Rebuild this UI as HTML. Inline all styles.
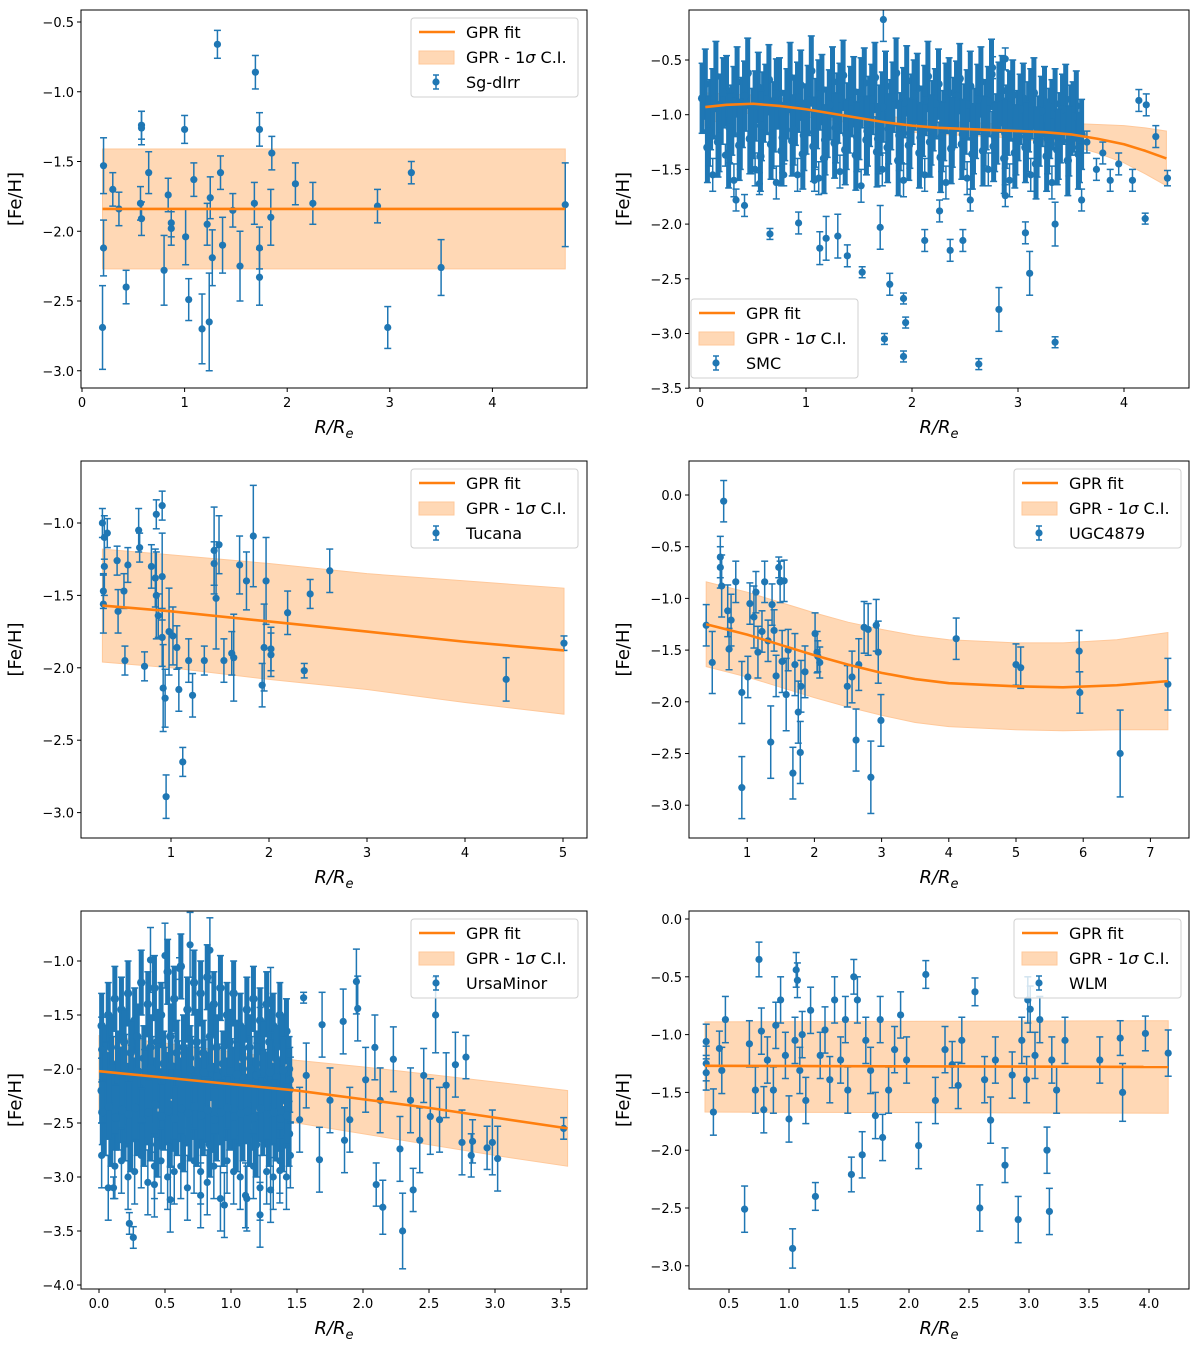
<!DOCTYPE html>
<html><head><meta charset="utf-8"><style>
body{margin:0;background:#fff;}
svg{display:block;font-family:"DejaVu Sans","Liberation Sans",sans-serif;}
</style></head><body>
<svg id="chart" width="1200" height="1350" viewBox="0 0 1200 1350" xmlns="http://www.w3.org/2000/svg"></svg>
<script>
// ---------- Panel 1: Sg-dIrr ----------
const sgX=[0.21,0.21,0.2,0.3,0.36,0.43,0.57,0.58,0.58,0.58,0.65,0.8,0.84,0.87,0.87,1.0,1.01,1.04,1.09,1.17,1.22,1.25,1.24,1.27,1.32,1.35,1.37,1.47,1.54,1.68,1.69,1.73,1.73,1.73,1.84,1.85,2.08,2.25,2.88,2.98,3.21,3.5,4.71];
const sgY=[-1.53,-2.12,-2.69,-1.70,-1.84,-2.40,-1.80,-1.91,-1.24,-1.26,-1.58,-2.28,-1.74,-1.94,-1.98,-1.27,-2.04,-2.49,-1.63,-2.70,-1.95,-1.76,-2.65,-2.19,-0.66,-1.58,-2.10,-1.85,-2.25,-1.80,-0.86,-1.27,-2.12,-2.33,-1.90,-1.44,-1.66,-1.80,-1.82,-2.69,-1.58,-2.26,-1.81];
const sgE=[0.2,0.2,0.3,0.12,0.12,0.12,0.12,0.12,0.1,0.12,0.15,0.25,0.12,0.1,0.12,0.1,0.2,0.15,0.12,0.25,0.15,0.15,0.35,0.2,0.1,0.12,0.2,0.12,0.25,0.15,0.12,0.12,0.15,0.2,0.2,0.12,0.15,0.15,0.12,0.15,0.08,0.2,0.3];
const sgFitX=[0.2,4.71], sgFitY=[-1.84,-1.84], sgFitHi=[-1.41,-1.41], sgFitLo=[-2.27,-2.27];
const sgXTicks=[0,1,2,3,4], sgYTicks=[-0.5,-1.0,-1.5,-2.0,-2.5,-3.0];

// ---------- Panel 2: SMC (dense core) ----------
const smcBlobX=[0.05,0.15,0.25,0.35,0.45,0.55,0.65,0.75,0.85,0.95,1.05,1.15,1.25,1.35,1.45,1.55,1.65,1.75,1.85,1.95,2.05,2.15,2.25,2.35,2.45,2.55,2.65,2.75,2.85,2.95,3.05,3.15,3.25,3.35,3.45,3.55,
0.1,0.2,0.3,0.4,0.5,0.6,0.7,0.8,0.9,1.0,1.1,1.2,1.3,1.4,1.5,1.6,1.7,1.8,1.9,2.0,2.1,2.2,2.3,2.4,2.5,2.6,2.7,2.8,2.9,3.0,3.1,3.2,3.3,3.4,3.5,3.6,
0.07,0.17,0.27,0.37,0.47,0.57,0.67,0.77,0.87,0.97,1.07,1.17,1.27,1.37,1.47,1.57,1.67,1.77,1.87,1.97,2.07,2.17,2.27,2.37,2.47,2.57,2.67,2.77,2.87,2.97,3.07,3.17,3.27,3.37,3.47,3.57,
0.02,0.12,0.22,0.32,0.42,0.52,0.62,0.72,0.82,0.92,1.02,1.12,1.22,1.32,1.42,1.52,1.62,1.72,1.82,1.92,2.02,2.12,2.22,2.32,2.42,2.52,2.62,2.72,2.82,2.92,3.02,3.12,3.22,3.32,3.42,3.52,
0.08,0.18,0.28,0.38,0.48,0.58,0.68,0.78,0.88,0.98,1.08,1.18,1.28,1.38,1.48,1.58,1.68,1.78,1.88,1.98,2.08,2.18,2.28,2.38,2.48,2.58,2.68,2.78,2.88,2.98,3.08,3.18,3.28,3.38,3.48,3.58];
const smcBlobY=[-0.72,-0.65,-0.78,-0.70,-0.62,-0.75,-0.68,-0.80,-0.66,-0.73,-0.60,-0.77,-0.70,-0.64,-0.79,-0.71,-0.66,-0.74,-0.62,-0.69,-0.76,-0.65,-0.72,-0.80,-0.67,-0.74,-0.70,-0.63,-0.78,-0.82,-0.85,-0.80,-0.88,-0.90,-0.86,-0.92,
-1.00,-0.95,-1.05,-0.98,-1.08,-0.93,-1.02,-1.10,-0.96,-1.04,-0.99,-1.07,-0.94,-1.03,-1.09,-0.97,-1.05,-1.00,-1.12,-0.95,-1.06,-1.01,-1.10,-0.98,-1.04,-1.08,-1.00,-1.13,-1.05,-1.10,-1.02,-1.15,-1.08,-1.12,-1.05,-1.18,
-1.30,-1.25,-1.35,-1.28,-1.22,-1.38,-1.27,-1.33,-1.24,-1.36,-1.29,-1.40,-1.26,-1.32,-1.37,-1.23,-1.34,-1.30,-1.42,-1.28,-1.35,-1.25,-1.39,-1.31,-1.27,-1.36,-1.33,-1.29,-1.40,-1.35,-1.30,-1.45,-1.38,-1.32,-1.42,-1.36,
-0.85,-0.9,-0.8,-0.88,-0.83,-0.92,-0.86,-0.81,-0.9,-0.84,-0.87,-0.82,-0.91,-0.85,-0.88,-0.8,-0.86,-0.93,-0.84,-0.89,-0.82,-0.87,-0.9,-0.85,-0.83,-0.91,-0.86,-0.88,-0.84,-0.92,-0.95,-0.9,-0.97,-1.0,-0.95,-1.02,
-1.15,-1.2,-1.12,-1.18,-1.22,-1.1,-1.17,-1.21,-1.14,-1.19,-1.16,-1.23,-1.12,-1.18,-1.2,-1.15,-1.22,-1.13,-1.19,-1.17,-1.21,-1.14,-1.2,-1.16,-1.18,-1.22,-1.15,-1.2,-1.17,-1.23,-1.2,-1.25,-1.22,-1.27,-1.24,-1.3];
const smcBlobErr=0.32;
// ---------- SMC scattered points ----------
const smcX=[0.12,0.32,0.52,0.72,0.92,1.12,1.32,1.52,1.72,1.92,2.12,2.32,2.52,2.72,2.92,3.12,3.32,
1.73,2.76,2.88,0.24,0.42,0.66,0.93,1.13,1.19,1.3,1.39,1.53,1.7,1.79,1.92,1.94,1.74,1.92,2.63,2.82,3.11,3.35,3.35,2.12,2.36,2.48,3.07,3.6,3.87,4.14,4.21,4.2,4.41,4.08,3.74,0.34,0.56,0.79,1.08,2.26,2.55,2.88,3.8,3.95,4.3,3.65];
const smcY=[-1.55,-1.6,-1.5,-1.62,-1.55,-1.58,-1.52,-1.65,-1.5,-1.6,-1.55,-1.62,-1.58,-1.5,-1.6,-1.55,-1.62,
-0.13,-0.57,-0.49,-1.37,-1.83,-2.09,-1.99,-2.22,-2.13,-2.11,-2.29,-2.44,-2.03,-2.55,-2.68,-2.9,-3.05,-3.21,-3.28,-2.78,-2.45,-3.08,-2.0,-2.15,-2.24,-2.15,-2.08,-1.78,-1.6,-0.87,-0.91,-1.95,-1.58,-1.6,-1.5,-1.78,-1.63,-1.55,-1.6,-1.88,-1.78,-1.74,-1.35,-1.45,-1.2,-1.25];
const smcE=[0.15,0.15,0.15,0.15,0.15,0.15,0.15,0.15,0.15,0.15,0.15,0.15,0.15,0.15,0.15,0.15,0.15,
0.2,0.1,0.1,0.1,0.1,0.05,0.1,0.15,0.2,0.2,0.1,0.05,0.2,0.1,0.05,0.05,0.05,0.05,0.05,0.2,0.2,0.05,0.2,0.1,0.1,0.1,0.1,0.1,0.1,0.1,0.1,0.05,0.07,0.1,0.1,0.1,0.1,0.1,0.1,0.1,0.1,0.1,0.1,0.1,0.1,0.1];
const smcFitX=[0.05,0.25,0.5,0.75,1,1.25,1.5,1.75,2,2.25,2.5,2.75,3,3.25,3.5,3.75,4,4.2,4.4];
const smcFitY=[-0.93,-0.91,-0.9,-0.92,-0.95,-0.99,-1.03,-1.07,-1.1,-1.12,-1.13,-1.14,-1.15,-1.16,-1.18,-1.22,-1.27,-1.33,-1.4];
const smcFitHi=[-0.8,-0.81,-0.82,-0.85,-0.88,-0.93,-0.97,-1.01,-1.04,-1.06,-1.07,-1.08,-1.08,-1.08,-1.08,-1.09,-1.1,-1.12,-1.15];
const smcFitLo=[-1.1,-1.02,-0.98,-0.99,-1.02,-1.05,-1.09,-1.13,-1.16,-1.18,-1.19,-1.2,-1.22,-1.25,-1.28,-1.35,-1.44,-1.54,-1.65];
const smcXTicks=[0,1,2,3,4], smcYTicks=[-0.5,-1.0,-1.5,-2.0,-2.5,-3.0,-3.5];

// ---------- Panel 3: Tucana ----------
const tucX=[0.3,0.32,0.32,0.31,0.31,0.35,0.45,0.46,0.52,0.53,0.56,0.67,0.68,0.73,0.8,0.84,0.85,0.85,0.87,0.91,0.91,0.91,0.92,0.94,0.95,0.98,1.02,1.06,1.08,1.12,1.18,1.22,1.34,1.44,1.44,1.46,1.49,1.54,1.62,1.64,1.7,1.77,1.84,1.93,1.95,1.97,2.02,2.02,2.19,2.36,2.42,2.62,4.42,5.01];
const tucY=[-1.0,-1.1,-1.3,-1.47,-1.56,-1.07,-1.26,-1.61,-1.47,-1.95,-1.29,-1.05,-1.17,-1.99,-1.3,-1.38,-0.94,-1.5,-1.64,-1.37,-0.88,-1.79,-2.14,-2.21,-2.89,-1.75,-1.78,-1.86,-2.15,-2.65,-1.95,-2.19,-1.95,-1.19,-1.28,-1.52,-1.15,-1.95,-1.9,-1.93,-1.29,-1.4,-1.09,-2.12,-1.86,-1.4,-1.91,-1.87,-1.62,-2.02,-1.49,-1.33,-2.08,-1.83];
const tucE=[0.1,0.15,0.2,0.12,0.2,0.1,0.1,0.15,0.12,0.1,0.12,0.15,0.1,0.1,0.15,0.2,0.1,0.3,0.15,0.3,0.1,0.2,0.3,0.2,0.15,0.3,0.2,0.15,0.15,0.1,0.15,0.15,0.1,0.3,0.15,0.35,0.2,0.15,0.15,0.3,0.2,0.2,0.35,0.15,0.3,0.3,0.15,0.15,0.15,0.05,0.1,0.15,0.15,0.05];
const tucFitX=[0.3,1,2,3,4,5.01];
const tucFitY=[-1.57,-1.61,-1.68,-1.75,-1.82,-1.88];
const tucFitHi=[-1.18,-1.22,-1.28,-1.35,-1.4,-1.45];
const tucFitLo=[-1.96,-2.0,-2.08,-2.15,-2.24,-2.32];
const tucXTicks=[1,2,3,4,5], tucYTicks=[-1.0,-1.5,-2.0,-2.5,-3.0];

// ---------- Panel 4: UGC4879 ----------
const ugcX=[0.39,0.48,0.6,0.6,0.62,0.65,0.71,0.73,0.76,0.83,0.92,0.92,1.01,1.04,1.1,1.13,1.16,1.22,1.26,1.31,1.35,1.37,1.4,1.43,1.47,1.49,1.52,1.55,1.58,1.61,1.68,1.71,1.76,1.79,1.8,1.86,2.01,2.04,2.05,2.08,2.49,2.56,2.62,2.66,2.74,2.8,2.84,2.92,2.95,2.99,4.11,5.0,5.07,5.94,5.95,6.55,7.26];
const ugcY=[-1.26,-1.62,-0.6,-0.7,-0.88,-0.06,-1.12,-1.49,-1.21,-0.84,-2.83,-1.91,-1.76,-1.05,-1.18,-0.94,-1.52,-1.32,-0.84,-1.41,-2.39,-1.06,-1.31,-1.75,-0.7,-0.84,-1.61,-0.83,-1.93,-1.5,-2.69,-1.64,-2.1,-2.49,-1.85,-1.71,-1.34,-1.52,-1.56,-1.62,-1.85,-1.76,-2.37,-1.64,-1.28,-1.3,-2.73,-1.26,-1.52,-2.18,-1.39,-1.64,-1.67,-1.51,-1.91,-2.5,-1.83];
const ugcE=[0.2,0.3,0.2,0.2,0.3,0.2,0.25,0.2,0.25,0.2,0.3,0.3,0.2,0.2,0.3,0.2,0.25,0.2,0.2,0.2,0.35,0.2,0.2,0.2,0.1,0.2,0.3,0.2,0.35,0.2,0.25,0.3,0.3,0.3,0.25,0.25,0.2,0.2,0.15,0.15,0.2,0.25,0.3,0.25,0.25,0.25,0.35,0.25,0.3,0.25,0.2,0.2,0.2,0.2,0.2,0.42,0.25];
const ugcFitX=[0.39,1,1.5,2,2.5,3,3.5,4,5,5.7,6.5,7.26];
const ugcFitY=[-1.25,-1.35,-1.45,-1.55,-1.64,-1.72,-1.78,-1.82,-1.85,-1.86,-1.84,-1.8];
const ugcFitHi=[-0.84,-0.94,-1.04,-1.14,-1.23,-1.3,-1.36,-1.4,-1.43,-1.43,-1.4,-1.33];
const ugcFitLo=[-1.66,-1.76,-1.86,-1.96,-2.05,-2.13,-2.2,-2.24,-2.27,-2.28,-2.27,-2.27];
const ugcXTicks=[1,2,3,4,5,6,7], ugcYTicks=[0.0,-0.5,-1.0,-1.5,-2.0,-2.5,-3.0];

// ---------- Panel 5: UrsaMinor (dense core) ----------
const umiBlobX=[0.02,0.07,0.12,0.17,0.22,0.27,0.32,0.37,0.42,0.47,0.52,0.57,0.62,0.67,0.72,0.77,0.82,0.87,0.92,0.97,1.02,1.07,1.12,1.17,1.22,1.27,1.32,1.37,1.42,
0.04,0.09,0.14,0.19,0.24,0.29,0.34,0.39,0.44,0.49,0.54,0.59,0.64,0.69,0.74,0.79,0.84,0.89,0.94,0.99,1.04,1.09,1.14,1.19,1.24,1.29,1.34,1.39,1.44,
0.02,0.07,0.12,0.17,0.22,0.27,0.32,0.37,0.42,0.47,0.52,0.57,0.62,0.67,0.72,0.77,0.82,0.87,0.92,0.97,1.02,1.07,1.12,1.17,1.22,1.27,1.32,1.37,1.42,
0.04,0.09,0.14,0.19,0.24,0.29,0.34,0.39,0.44,0.49,0.54,0.59,0.64,0.69,0.74,0.79,0.84,0.89,0.94,0.99,1.04,1.09,1.14,1.19,1.24,1.29,1.34,1.39,1.44,
0.045,0.095,0.145,0.195,0.245,0.295,0.345,0.395,0.445,0.495,0.545,0.595,0.645,0.695,0.745,0.795,0.845,0.895,0.945,0.995,1.045,1.095,1.145,1.195,1.245,1.295,1.345,1.395,1.445,
0.025,0.075,0.125,0.175,0.225,0.275,0.325,0.375,0.425,0.475,0.525,0.575,0.625,0.675,0.725,0.775,0.825,0.875,0.925,0.975,1.025,1.075,1.125,1.175,1.225,1.275,1.325,1.375,1.425];
const umiBlobY=[-1.6,-1.5,-1.35,-1.45,-1.3,-1.55,-1.2,-1.4,-1.25,-1.5,-1.1,-1.35,-1.05,-1.45,-1.2,-1.3,-1.15,-1.4,-1.25,-1.5,-1.3,-1.6,-1.45,-1.35,-1.55,-1.4,-1.6,-1.5,-1.65,
-1.9,-1.8,-1.95,-1.75,-1.85,-1.7,-1.9,-1.8,-1.75,-1.95,-1.7,-1.85,-1.8,-1.9,-1.75,-1.85,-1.7,-1.8,-1.95,-1.75,-1.85,-1.9,-1.8,-1.95,-1.85,-1.75,-1.9,-1.8,-2.0,
-2.2,-2.15,-2.3,-2.1,-2.25,-2.2,-2.35,-2.1,-2.2,-2.3,-2.15,-2.25,-2.2,-2.1,-2.3,-2.2,-2.15,-2.25,-2.3,-2.2,-2.1,-2.25,-2.35,-2.2,-2.3,-2.15,-2.25,-2.2,-2.3,
-2.5,-2.6,-2.45,-2.55,-2.65,-2.5,-2.6,-2.55,-2.7,-2.45,-2.6,-2.5,-2.65,-2.55,-2.6,-2.5,-2.7,-2.55,-2.6,-2.45,-2.65,-2.55,-2.6,-2.7,-2.5,-2.6,-2.55,-2.65,-2.6,
-2.05,-2.0,-2.1,-1.98,-2.08,-2.02,-2.12,-2.0,-2.06,-2.1,-1.97,-2.04,-2.08,-2.0,-2.1,-2.03,-1.99,-2.07,-2.11,-2.02,-2.05,-2.09,-2.0,-2.06,-2.12,-2.03,-2.08,-2.01,-2.1,
-2.4,-2.35,-2.45,-2.38,-2.42,-2.36,-2.48,-2.4,-2.33,-2.44,-2.39,-2.46,-2.37,-2.41,-2.35,-2.43,-2.38,-2.47,-2.4,-2.36,-2.44,-2.41,-2.39,-2.45,-2.37,-2.42,-2.4,-2.46,-2.43];
const umiBlobErr=0.3;
// ---------- UrsaMinor scattered points ----------
const umiX=[0.02,0.07,0.12,0.17,0.22,0.27,0.32,0.37,0.42,0.47,0.52,0.57,0.62,0.67,0.72,0.77,0.82,0.87,0.92,0.97,1.02,1.07,1.12,1.17,1.22,1.27,1.32,1.37,1.42,
0.02,0.11,0.23,0.26,0.61,0.5,1.55,1.57,1.69,1.85,1.95,1.96,2.09,2.1,2.15,2.23,2.28,2.3,2.36,2.38,2.46,2.51,2.55,2.63,2.7,2.75,2.78,2.82,2.83,2.94,2.98,3.02,3.52,2.58,2.43,1.86,1.9,1.75,1.45,1.3,1.37,1.67,1.22,1.11,0.95,0.77,0.42,0.54,2.13,2.02,1.45,1.52,1.3,1.22,0.69,0.84,0.39];
const umiY=[-2.8,-3.1,-2.9,-2.85,-3.0,-2.95,-2.8,-3.05,-2.9,-2.85,-3.0,-2.95,-2.9,-3.1,-2.85,-2.95,-3.05,-2.9,-3.2,-2.85,-2.95,-3.0,-3.2,-2.9,-3.1,-2.95,-3.0,-2.85,-3.0,
-1.82,-3.1,-3.43,-3.56,-1.07,-0.95,-1.34,-2.06,-1.59,-1.56,-1.19,-1.44,-1.8,-3.07,-3.28,-1.91,-2.74,-3.5,-2.29,-3.12,-2.06,-2.44,-1.5,-2.15,-1.96,-2.68,-1.89,-2.8,-2.67,-2.73,-2.68,-2.83,-2.55,-2.47,-2.66,-2.66,-2.47,-2.29,-2.8,-3.12,-2.94,-2.84,-3.35,-3.17,-3.26,-3.17,-3.07,-3.21,-2.29,-2.1,-2.19,-2.47,-1.36,-1.73,-0.85,-0.9,-0.99];
const umiE=[0.3,0.3,0.3,0.3,0.3,0.3,0.3,0.3,0.3,0.3,0.3,0.3,0.3,0.3,0.3,0.3,0.3,0.3,0.3,0.3,0.3,0.3,0.3,0.3,0.3,0.3,0.3,0.3,0.3,
0.3,0.1,0.1,0.1,0.1,0.3,0.05,0.3,0.3,0.3,0.3,0.3,0.3,0.2,0.25,0.3,0.3,0.35,0.3,0.2,0.25,0.35,0.35,0.3,0.3,0.3,0.2,0.2,0.2,0.2,0.3,0.3,0.1,0.3,0.3,0.3,0.3,0.3,0.3,0.3,0.3,0.3,0.3,0.3,0.3,0.3,0.3,0.3,0.3,0.3,0.3,0.3,0.3,0.3,0.3,0.3,0.3];
const umiFitX=[0,0.5,1,1.5,2,2.5,3,3.55];
const umiFitY=[-2.02,-2.08,-2.14,-2.2,-2.28,-2.36,-2.45,-2.55];
const umiFitHi=[-1.69,-1.76,-1.84,-1.92,-1.98,-2.05,-2.12,-2.2];
const umiFitLo=[-2.39,-2.4,-2.44,-2.5,-2.6,-2.7,-2.8,-2.9];
const umiXTicks=[0.0,0.5,1.0,1.5,2.0,2.5,3.0,3.5], umiYTicks=[-1.0,-1.5,-2.0,-2.5,-3.0,-3.5,-4.0];

// ---------- Panel 6: WLM ----------
const wlmX=[0.31,0.31,0.31,0.37,0.42,0.44,0.47,0.63,0.67,0.72,0.75,0.77,0.79,0.82,0.87,0.89,0.93,0.97,1.0,1.03,1.05,1.06,1.07,1.09,1.11,1.14,1.18,1.22,1.26,1.3,1.34,1.38,1.43,1.47,1.49,1.52,1.54,1.57,1.61,1.64,1.68,1.72,1.76,1.78,1.83,1.88,1.93,1.98,2.08,2.14,2.22,2.3,2.36,2.41,2.44,2.55,2.59,2.63,2.68,2.72,2.8,2.86,2.91,2.94,2.98,3.01,3.05,3.15,3.17,3.19,3.23,3.3,3.59,3.76,3.78,3.97,4.16,2.99,3.09];
const wlmY=[-1.06,-1.25,-1.33,-1.67,-1.12,-1.31,-0.87,-2.51,-1.08,-1.48,-0.35,-0.97,-1.65,-1.22,-1.48,-0.92,-0.7,-1.18,-1.73,-2.85,-1.05,-0.44,-0.53,-1.31,-1.0,-1.57,-0.79,-2.4,-1.18,-0.96,-1.39,-0.7,-1.22,-0.87,-1.48,-2.21,-0.5,-0.7,-2.04,-1.05,-1.31,-1.7,-0.87,-1.89,-1.48,-1.13,-0.83,-1.22,-1.96,-0.48,-1.57,-1.13,-1.26,-1.44,-1.05,-0.63,-2.5,-1.39,-1.74,-1.22,-2.13,-1.35,-2.6,-1.05,-1.39,-0.78,-1.18,-2.0,-2.53,-1.22,-1.48,-1.05,-1.22,-1.03,-1.5,-0.99,-1.16,-0.7,-0.87];
const wlmE=[0.15,0.15,0.15,0.2,0.15,0.2,0.2,0.2,0.2,0.2,0.15,0.2,0.2,0.2,0.2,0.2,0.2,0.2,0.2,0.17,0.2,0.15,0.15,0.2,0.2,0.2,0.2,0.12,0.2,0.2,0.2,0.2,0.2,0.2,0.2,0.15,0.15,0.2,0.2,0.2,0.2,0.2,0.2,0.2,0.2,0.2,0.2,0.2,0.2,0.12,0.2,0.2,0.2,0.2,0.2,0.12,0.2,0.2,0.2,0.2,0.15,0.2,0.2,0.2,0.2,0.2,0.2,0.2,0.2,0.2,0.2,0.2,0.2,0.15,0.25,0.15,0.2,0.2,0.2];
const wlmFitX=[0.3,4.16], wlmFitY=[-1.27,-1.28], wlmFitHi=[-0.89,-0.88], wlmFitLo=[-1.67,-1.68];
const wlmXTicks=[0.5,1.0,1.5,2.0,2.5,3.0,3.5,4.0], wlmYTicks=[0.0,-0.5,-1.0,-1.5,-2.0,-2.5,-3.0];

// ---------- rendering ----------
const NS='http://www.w3.org/2000/svg';
const svg=document.getElementById('chart');
const BLUE='#1f77b4', ORANGE='#ff7f0e', BAND='#ffd8b5';
function mk(tag,attrs,parent){const e=document.createElementNS(NS,tag);for(const k in attrs)e.setAttribute(k,attrs[k]);(parent||svg).appendChild(e);return e;}
function fmt(v,dec){return (v<0?'\u2212':'')+Math.abs(v).toFixed(dec);}

function drawPanel(p){
  const g=mk('g',{});
  
  
  const sx=v=>p.x0+v*p.kx, sy=v=>p.y0-v*p.ky;
  const clip=mk('clipPath',{id:'clip-'+p.name},g);
  mk('rect',{x:p.l,y:p.t,width:p.r-p.l,height:p.b-p.t},clip);
  const plot=mk('g',{'clip-path':'url(#clip-'+p.name+')'},g);
  let pts=p.fx.map((x,i)=>sx(x)+','+sy(p.fhi[i]));
  for(let i=p.fx.length-1;i>=0;i--)pts.push(sx(p.fx[i])+','+sy(p.flo[i]));
  const band=mk('polygon',{points:pts.join(' '),fill:BAND,stroke:'#ffc89a','stroke-width':1},plot);
  
  
  const pg=mk('g',{},plot);
  
  
  function drawSet(xs,ys,es,ebw,mr){
    for(let i=0;i<xs.length;i++){
      const cx=sx(xs[i]), y1=sy(ys[i]+es[i]), y2=sy(ys[i]-es[i]), cy=sy(ys[i]);
      mk('line',{x1:cx,y1:y1,x2:cx,y2:y2,stroke:BLUE,'stroke-width':ebw},pg);
      mk('line',{x1:cx-3.5,y1:y1,x2:cx+3.5,y2:y1,stroke:BLUE,'stroke-width':1.5},pg);
      mk('line',{x1:cx-3.5,y1:y2,x2:cx+3.5,y2:y2,stroke:BLUE,'stroke-width':1.5},pg);
      const c=mk('circle',{cx:cx,cy:cy,r:mr,fill:BLUE},pg);
      
      
    }
  }
  if(p.bx) drawSet(p.bx,p.by,p.be,5,4.2);
  drawSet(p.xs,p.ys,p.es,1.5,3.6);
  const fl=mk('polyline',{points:p.fx.map((x,i)=>sx(x)+','+sy(p.fy[i])).join(' '),fill:'none',stroke:ORANGE,'stroke-width':2.6,'stroke-linejoin':'round'},plot);
  
  
  mk('rect',{x:p.l,y:p.t,width:p.r-p.l,height:p.b-p.t,fill:'none',stroke:'#000','stroke-width':1},g);
  p.xt.forEach(v=>{const x=sx(v);mk('line',{x1:x,y1:p.b,x2:x,y2:p.b+4,stroke:'#000'},g);
    const t=mk('text',{x:x,y:p.b+19,'text-anchor':'middle','font-size':13},g);t.textContent=fmt(v,p.xdec);
    
    });
  p.yt.forEach(v=>{const y=sy(v);mk('line',{x1:p.l-4,y1:y,x2:p.l,y2:y,stroke:'#000'},g);
    const t=mk('text',{x:p.l-7,y:y+5,'text-anchor':'end','font-size':13},g);t.textContent=fmt(v,1);
    
    });
  const xl=mk('text',{x:(p.l+p.r)/2,y:p.b+45,'text-anchor':'middle','font-size':18,'font-style':'italic'},g);
  xl.innerHTML='R/R<tspan font-size="13" dy="5">e</tspan>';
  
  
  const yl=mk('text',{x:0,y:0,'text-anchor':'middle','font-size':18,transform:'translate('+(p.l-60)+','+((p.t+p.b)/2)+') rotate(-90)'},g);
  yl.textContent='[Fe/H]';
  
  
  const L=mk('g',{},g);
  
  
  const lx=p.lx, ly=p.ly;
  mk('rect',{x:lx,y:ly,width:167,height:79,rx:3,fill:'rgba(255,255,255,0.8)',stroke:'#d0d0d0'},L);
  mk('line',{x1:lx+8,y1:ly+14,x2:lx+44,y2:ly+14,stroke:ORANGE,'stroke-width':2.6},L);
  mk('rect',{x:lx+8,y:ly+33,width:35,height:13,fill:BAND,stroke:'#ffc89a'},L);
  mk('line',{x1:lx+25,y1:ly+57,x2:lx+25,y2:ly+71,stroke:BLUE,'stroke-width':1.5},L);
  mk('line',{x1:lx+22,y1:ly+57,x2:lx+28,y2:ly+57,stroke:BLUE,'stroke-width':1.5},L);
  mk('line',{x1:lx+22,y1:ly+71,x2:lx+28,y2:ly+71,stroke:BLUE,'stroke-width':1.5},L);
  mk('circle',{cx:lx+25,cy:ly+64,r:3.6,fill:BLUE},L);
  const labels=['GPR fit','GPR - 1<tspan font-style="italic">σ</tspan> C.I.',p.label];
  labels.forEach((s,i)=>{const t=mk('text',{x:lx+55,y:ly+20+i*25,'font-size':16},L);t.innerHTML=s;
    
    });
}

drawPanel({name:'sg-dirr',label:'Sg-dIrr',l:81,t:10,r:587,b:388,x0:82,kx:102.6,y0:22-0.5*139.5,ky:139.5,xs:sgX,ys:sgY,es:sgE,fx:sgFitX,fy:sgFitY,fhi:sgFitHi,flo:sgFitLo,xt:sgXTicks,yt:sgYTicks,xdec:0,lx:411,ly:18});
drawPanel({name:'smc',label:'SMC',l:689,t:10,r:1189,b:388,x0:700,kx:106,y0:60-0.5*109.4,ky:109.4,
  bx:smcBlobX,by:smcBlobY,be:smcBlobY.map(()=>smcBlobErr),
  xs:smcX,ys:smcY,es:smcE,
  fx:smcFitX,fy:smcFitY,fhi:smcFitHi,flo:smcFitLo,xt:smcXTicks,yt:smcYTicks,xdec:0,lx:691,ly:299});
drawPanel({name:'tucana',label:'Tucana',l:81,t:461,r:587,b:838,x0:73,kx:98,y0:523-144.8,ky:144.8,xs:tucX,ys:tucY,es:tucE,fx:tucFitX,fy:tucFitY,fhi:tucFitHi,flo:tucFitLo,xt:tucXTicks,yt:tucYTicks,xdec:0,lx:411,ly:469});
drawPanel({name:'ugc4879',label:'UGC4879',l:689,t:461,r:1189,b:838,x0:680,kx:67.2,y0:495,ky:103.4,xs:ugcX,ys:ugcY,es:ugcE,fx:ugcFitX,fy:ugcFitY,fhi:ugcFitHi,flo:ugcFitLo,xt:ugcXTicks,yt:ugcYTicks,xdec:0,lx:1014,ly:469});
drawPanel({name:'ursaminor',label:'UrsaMinor',l:81,t:911,r:587,b:1289,x0:99,kx:132,y0:961-108,ky:108,
  bx:umiBlobX,by:umiBlobY,be:umiBlobY.map(()=>umiBlobErr),
  xs:umiX,ys:umiY,es:umiE,
  fx:umiFitX,fy:umiFitY,fhi:umiFitHi,flo:umiFitLo,xt:umiXTicks,yt:umiYTicks,xdec:1,lx:411,ly:919});
drawPanel({name:'wlm',label:'WLM',l:689,t:911,r:1189,b:1289,x0:669,kx:120,y0:919,ky:115.6,xs:wlmX,ys:wlmY,es:wlmE,fx:wlmFitX,fy:wlmFitY,fhi:wlmFitHi,flo:wlmFitLo,xt:wlmXTicks,yt:wlmYTicks,xdec:1,lx:1014,ly:919});
</script>
</body></html>
